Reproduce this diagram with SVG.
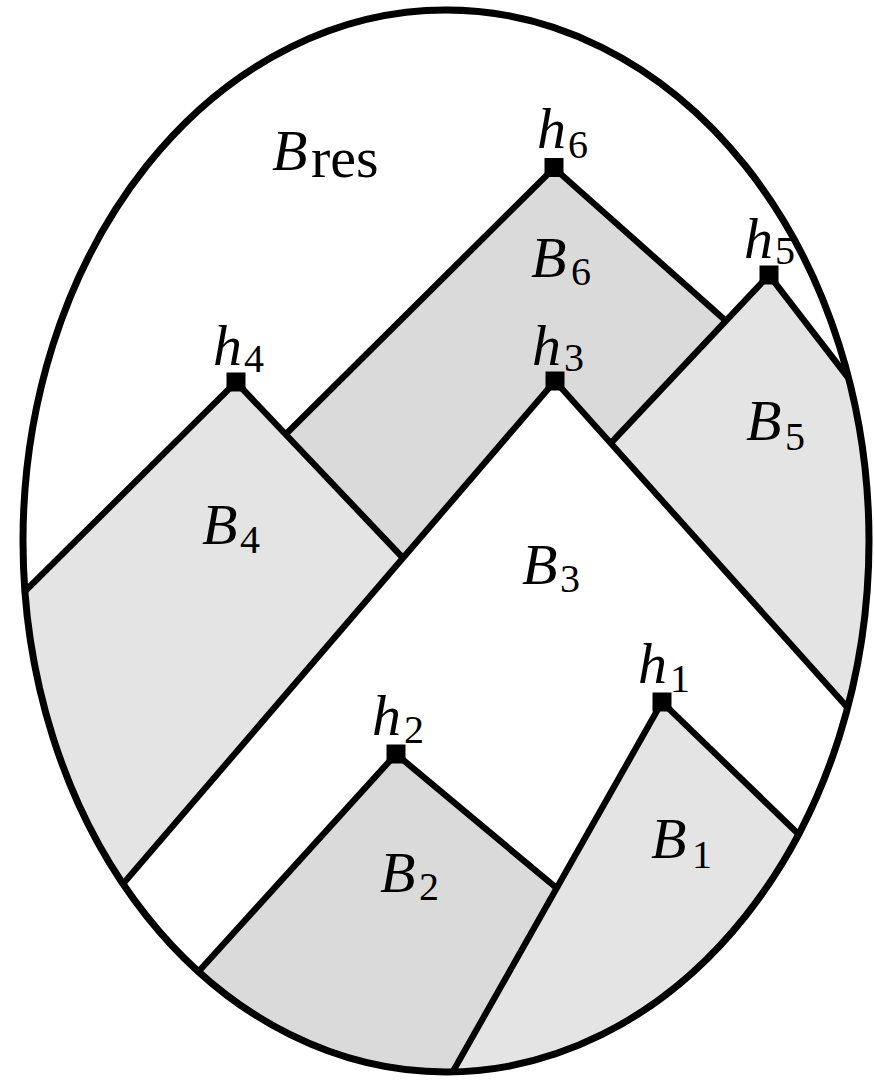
<svg xmlns="http://www.w3.org/2000/svg" width="874" height="1080" viewBox="0 0 874 1080">
<style>
.dark{fill:#dadada;stroke:none}
.light{fill:#e4e4e4;stroke:none}
.ln{stroke:#000;stroke-width:6.3;fill:none;stroke-linecap:butt;stroke-linejoin:miter}
.sq{fill:#000}
.lab{font-family:"Liberation Serif","Times New Roman",serif;font-size:58px;fill:#000}
.it{font-style:italic}
.sub{font-size:40px}
</style>
<defs>
<clipPath id="oval"><ellipse cx="446" cy="541" rx="423" ry="531"/></clipPath>
</defs>
<rect width="874" height="1080" fill="#fff"/>
<g id="regions" clip-path="url(#oval)">
<polygon id="fill-B6" class="dark" points="554,168 286,434 403,558 555,381 610,444 725.6,320.6"/>
<polygon id="fill-B5" class="light" points="769,275 890,432 890,755 610,444"/>
<polygon id="fill-B4" class="light" points="236,382 0,616 0,934 80,934 403,558"/>
<polygon id="fill-B2" class="dark" points="396,754 160,1014 200,1120 430,1112 556.7,888.2"/>
<polygon id="fill-B1" class="light" points="662,702 430,1112 860,1112 850,884"/>
</g>
<g id="connectors" clip-path="url(#oval)">
<path class="ln" d="M554,168 L286,434"/>
<path class="ln" d="M554,168 L725.6,320.6"/>
<path class="ln" d="M769,275 L610,444"/>
<path class="ln" d="M769,275 L890,432"/>
<path class="ln" d="M236,382 L0,616"/>
<path class="ln" d="M236,382 L403,558"/>
<path class="ln" d="M555,381 L80,934"/>
<path class="ln" d="M555,381 L890,755"/>
<path class="ln" d="M396,754 L160,1014"/>
<path class="ln" d="M396,754 L556.7,888.2"/>
<path class="ln" d="M662,702 L430,1112"/>
<path class="ln" d="M662,702 L850,884"/>
</g>
<g id="boundary">
<ellipse cx="446" cy="541" rx="423" ry="531" fill="none" stroke="#000" stroke-width="7"/>
</g>
<g id="Bres"><text class="lab"><tspan class="it" x="272" y="170">B</tspan><tspan x="311" y="177">res</tspan></text></g>
<g id="B6"><text class="lab"><tspan class="it" x="531" y="277">B</tspan><tspan class="sub" x="571" y="285">6</tspan></text></g>
<g id="B5"><text class="lab"><tspan class="it" x="746" y="440">B</tspan><tspan class="sub" x="785" y="450">5</tspan></text></g>
<g id="B4"><text class="lab"><tspan class="it" x="202" y="544">B</tspan><tspan class="sub" x="240" y="553">4</tspan></text></g>
<g id="B3"><text class="lab"><tspan class="it" x="522" y="584">B</tspan><tspan class="sub" x="560" y="592">3</tspan></text></g>
<g id="B2"><text class="lab"><tspan class="it" x="380" y="892">B</tspan><tspan class="sub" x="419" y="900">2</tspan></text></g>
<g id="B1"><text class="lab"><tspan class="it" x="651" y="858">B</tspan><tspan class="sub" x="692" y="868">1</tspan></text></g>
<g id="h6"><rect class="sq" x="544.5" y="158" width="19" height="19"/><text class="lab"><tspan class="it" x="537" y="148">h</tspan><tspan class="sub" x="568" y="158">6</tspan></text></g>
<g id="h5"><rect class="sq" x="759.5" y="265.5" width="19" height="19"/><text class="lab"><tspan class="it" x="744" y="258">h</tspan><tspan class="sub" x="775" y="264">5</tspan></text></g>
<g id="h4"><rect class="sq" x="226.5" y="372.5" width="19" height="19"/><text class="lab"><tspan class="it" x="213" y="365">h</tspan><tspan class="sub" x="244" y="372">4</tspan></text></g>
<g id="h3"><rect class="sq" x="545.5" y="371.5" width="19" height="19"/><text class="lab"><tspan class="it" x="532" y="365">h</tspan><tspan class="sub" x="564" y="371">3</tspan></text></g>
<g id="h2"><rect class="sq" x="386.5" y="744.5" width="19" height="19"/><text class="lab"><tspan class="it" x="372" y="735">h</tspan><tspan class="sub" x="404" y="743">2</tspan></text></g>
<g id="h1"><rect class="sq" x="652.5" y="692.5" width="19" height="19"/><text class="lab"><tspan class="it" x="638" y="683">h</tspan><tspan class="sub" x="670" y="692">1</tspan></text></g>
</svg>
